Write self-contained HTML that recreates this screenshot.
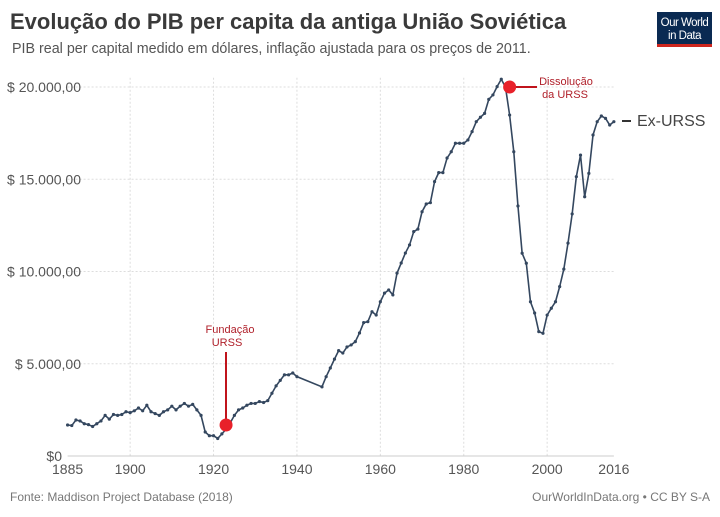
<!DOCTYPE html>
<html><head><meta charset="utf-8"><style>
body{margin:0;background:#fff;font-family:"Liberation Sans",sans-serif}
svg text{font-family:"Liberation Sans",sans-serif}
</style></head><body>
<svg width="720" height="512" viewBox="0 0 720 512">
<text x="10" y="29" font-size="22" font-weight="bold" fill="#3a3a3a">Evolução do PIB per capita da antiga União Soviética</text>
<text x="12" y="53" font-size="14.3" fill="#555">PIB real per capital medido em dólares, inflação ajustada para os preços de 2011.</text>
<g>
<rect x="657" y="12" width="55" height="35" fill="#0a2a52"/>
<rect x="657" y="44" width="55" height="3" fill="#ce261e"/>
<text x="684.5" y="26" font-size="11.5" fill="#fff" text-anchor="middle" letter-spacing="-0.5">Our World</text>
<text x="684.5" y="39" font-size="11.5" fill="#fff" text-anchor="middle" letter-spacing="-0.5">in Data</text>
</g>
<g id="grid"></g>
<g id="axes"></g>
<g id="series"></g>
<g>
<line x1="226" y1="352" x2="226" y2="425" stroke="#c0141c" stroke-width="2"/>
<text x="230" y="333" font-size="11" fill="#b0202a" text-anchor="middle">Fundação</text>
<text x="227" y="346" font-size="11" fill="#b0202a" text-anchor="middle">URSS</text>
</g>
<g>
<line x1="512" y1="87" x2="537" y2="87" stroke="#c0141c" stroke-width="2"/>
<text x="566" y="85" font-size="11" fill="#b0202a" text-anchor="middle">Dissolução</text>
<text x="565" y="98" font-size="11" fill="#b0202a" text-anchor="middle">da URSS</text>
</g>
<g id="dots"></g>
<line x1="622" y1="121" x2="631" y2="121" stroke="#333" stroke-width="2"/>
<text x="637" y="126" font-size="16" fill="#444">Ex-URSS</text>
<text x="10" y="501" font-size="12" fill="#777">Fonte: Maddison Project Database (2018)</text>
<text x="710" y="501" font-size="12" fill="#777" text-anchor="end">OurWorldInData.org • CC BY S-A</text>
</svg>
<script>
const years=[1885,1886,1887,1888,1889,1890,1891,1892,1893,1894,1895,1896,1897,1898,1899,1900,1901,1902,1903,1904,1905,1906,1907,1908,1909,1910,1911,1912,1913,1914,1915,1916,1917,1918,1919,1920,1921,1922,1923,1924,1925,1926,1927,1928,1929,1930,1931,1932,1933,1934,1935,1936,1937,1938,1939,1940,1946,1947,1948,1949,1950,1951,1952,1953,1954,1955,1956,1957,1958,1959,1960,1961,1962,1963,1964,1965,1966,1967,1968,1969,1970,1971,1972,1973,1974,1975,1976,1977,1978,1979,1980,1981,1982,1983,1984,1985,1986,1987,1988,1989,1990,1991,1992,1993,1994,1995,1996,1997,1998,1999,2000,2001,2002,2003,2004,2005,2006,2007,2008,2009,2010,2011,2012,2013,2014,2015,2016];
const gdp=[1680,1650,1950,1900,1750,1700,1600,1750,1900,2200,2000,2250,2200,2250,2400,2350,2450,2600,2450,2750,2400,2300,2200,2400,2500,2700,2500,2700,2850,2700,2800,2500,2200,1300,1100,1100,950,1200,1450,1800,2200,2500,2600,2750,2850,2850,2950,2900,3000,3400,3800,4100,4400,4400,4500,4300,3750,4300,4770,5250,5710,5580,5910,6020,6200,6670,7230,7280,7820,7640,8360,8830,9000,8730,9910,10460,11000,11440,12160,12300,13240,13660,13730,14870,15360,15360,16150,16490,16950,16950,16950,17130,17580,18120,18360,18570,19330,19570,20020,20420,20000,18480,16490,13550,10990,10450,8360,7750,6740,6650,7640,8010,8360,9180,10130,11540,13120,15140,16310,14050,15320,17400,18120,18430,18300,17940,18120];
const yTicks=[0,5000,10000,15000,20000];
const yTickLabels=["$0","$ 5.000,00","$ 10.000,00","$ 15.000,00","$ 20.000,00"];
const xTicks=[1885,1900,1920,1940,1960,1980,2000,2016];
const events=[{year:1923,value:1680,name:"fundacao-urss-marker"},{year:1991,value:20000,name:"dissolucao-urss-marker"}];
const X=y=>67.6+(y-1885)*4.17;
const Y=v=>456-v*0.01845;
const NS="http://www.w3.org/2000/svg";
function mk(t,a,p){const e=document.createElementNS(NS,t);for(const k in a)e.setAttribute(k,a[k]);p.appendChild(e);return e;}
const grid=document.getElementById('grid'),axes=document.getElementById('axes'),ser=document.getElementById('series'),dots=document.getElementById('dots');
yTicks.forEach((v,i)=>{
 if(v>0){const g=mk('line',{x1:X(1885),x2:X(2016),y1:Y(v),y2:Y(v),stroke:'#ddd','stroke-dasharray':'2,2'},grid);
 
 }
 const t=mk('text',{x:v===0?62:81,y:Y(v)+5,'font-size':14,fill:'#555','text-anchor':'end'},axes);t.textContent=yTickLabels[i];
 
 
});
xTicks.forEach(yr=>{
 if(yr!==1885&&yr!==2016){const g=mk('line',{x1:X(yr),x2:X(yr),y1:Y(20500),y2:456,stroke:'#ddd','stroke-dasharray':'2,2'},grid);
 
 }
 const t=mk('text',{x:X(yr),y:474,'font-size':14,fill:'#555','text-anchor':'middle'},axes);t.textContent=yr;
 
 
});
const ax=mk('line',{x1:X(1885),x2:X(2016),y1:456,y2:456,stroke:'#ccc'},axes);


const pl=mk('polyline',{points:years.map((y,i)=>X(y)+','+Y(gdp[i])).join(' '),fill:'none',stroke:'#34475f','stroke-width':1.6},ser);


years.forEach((y,i)=>{const c=mk('circle',{cx:X(y),cy:Y(gdp[i]),r:1.6,fill:'#34475f'},ser);
 
 });
events.forEach(e=>{const c=mk('circle',{cx:X(e.year),cy:Y(e.value),r:6.5,fill:'#e8212a'},dots);
 
 });
</script>
</body></html>
